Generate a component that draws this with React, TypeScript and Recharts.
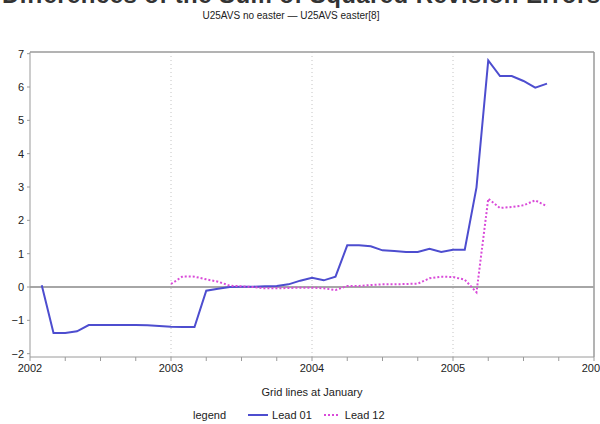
import { LineChart, Line, XAxis, YAxis, ReferenceLine } from "recharts";

// month offsets from January 2002 (1 = Feb 2002 ... 44 = Sep 2005)
const months = [
  1, 2, 3, 4, 5, 6, 7, 8, 9, 10, 11, 12, 13, 14, 15, 16, 17, 18, 19, 20, 21, 22,
  23, 24, 25, 26, 27, 28, 29, 30, 31, 32, 33, 34, 35, 36, 37, 38, 39, 40, 41, 42,
  43, 44,
];

const lead01 = [
  0.05, -1.38, -1.38, -1.33, -1.14, -1.14, -1.14, -1.14, -1.14, -1.15, -1.17,
  -1.19, -1.2, -1.2, -0.11, -0.05, 0.0, 0.01, 0.01, 0.02, 0.03, 0.08, 0.19, 0.28,
  0.2, 0.31, 1.25, 1.25, 1.22, 1.1, 1.08, 1.05, 1.05, 1.15, 1.05, 1.12, 1.12,
  2.99, 6.8, 6.33, 6.33, 6.18, 5.98, 6.1,
];

const lead12 = [
  null, null, null, null, null, null, null, null, null, null, null, 0.09, 0.32,
  0.31, 0.23, 0.16, 0.04, 0.02, 0.0, -0.04, -0.04, -0.03, -0.02, -0.02, -0.04,
  -0.09, 0.03, 0.03, 0.06, 0.08, 0.08, 0.09, 0.1, 0.26, 0.31, 0.3, 0.22, -0.16,
  2.65, 2.37, 2.4, 2.45, 2.6, 2.42,
];

const quarterTicks = [0, 3, 6, 9, 12, 15, 18, 21, 24, 27, 30, 33, 36, 39, 42, 45, 48];
const yearLabels: Record<number, string> = {
  0: "2002",
  12: "2003",
  24: "2004",
  36: "2005",
  48: "2006",
};
const januaryLines = [12, 24, 36];
const yTicks = [-2, -1, 0, 1, 2, 3, 4, 5, 6, 7];
const yDomain: [number, number] = [-2.1, 7.05];
const xDomain: [number, number] = [0, 48];

const BLUE = "#4d4dcf";
const PINK = "#d94bd9";
const AXIS = "#9a9a9a";

const data = months.map((m, i) => ({ m, lead01: lead01[i], lead12: lead12[i] }));

export default function App() {
  return (
    <div
      style={{
        position: "absolute",
        left: 0,
        top: 0,
        width: 600,
        height: 424,
        overflow: "hidden",
        background: "#fff",
        fontFamily: "'Liberation Sans', Arial, sans-serif",
        color: "#222",
      }}
    >
      <svg width={600} height={24} style={{ position: "absolute", left: 0, top: 0 }}>
        <text
          x={2}
          y={3}
          fontSize={24}
          fontWeight="bold"
          fill="#333"
          textLength={598}
          lengthAdjust="spacing"
        >
          Differences of the Sum of Squared Revision Errors
        </text>
        <text x={291} y={19} fontSize={10} textAnchor="middle" fill="#222">
          U25AVS no easter — U25AVS easter[8]
        </text>
      </svg>

      <div style={{ position: "absolute", left: 0, top: 0 }}>
        <LineChart
          width={600}
          height={424}
          data={data}
          margin={{ top: 52, right: 6, bottom: 0, left: 0 }}
        >
          <XAxis
            dataKey="m"
            type="number"
            domain={xDomain}
            ticks={quarterTicks}
            interval={0}
            allowDataOverflow
            tickFormatter={(v: number) => yearLabels[v] ?? ""}
            tickSize={4}
            tickMargin={3}
            stroke={AXIS}
            tick={{ fill: "#222", fontSize: 11 }}
            height={67}
            label={{
              value: "Grid lines at January",
              position: "insideTop",
              offset: 31,
              fill: "#222",
              fontSize: 11,
            }}
          />
          <YAxis
            type="number"
            domain={yDomain}
            ticks={yTicks}
            interval={0}
            allowDataOverflow
            width={30}
            tickSize={3}
            tickMargin={3}
            stroke={AXIS}
            tick={{ fill: "#222", fontSize: 11 }}
            tickFormatter={(v: number) => (v < 0 ? "\u2212" + Math.abs(v) : String(v))}
          />
          {januaryLines.map((x) => (
            <ReferenceLine key={x} x={x} stroke="#c4c4c4" strokeDasharray="1 3" />
          ))}
          <ReferenceLine y={yDomain[1]} stroke={AXIS} strokeWidth={1.5} />
          <ReferenceLine x={xDomain[1]} stroke={AXIS} strokeWidth={1.5} />
          <ReferenceLine y={0} stroke="#a6a6a6" strokeWidth={2} />
          <Line
            dataKey="lead01"
            stroke={BLUE}
            strokeWidth={2}
            dot={false}
            isAnimationActive={false}
          />
          <Line
            dataKey="lead12"
            stroke={PINK}
            strokeWidth={2}
            strokeDasharray="2 2"
            dot={false}
            isAnimationActive={false}
          />
        </LineChart>
      </div>

      <div
        style={{
          position: "absolute",
          top: 408,
          left: 193,
          fontSize: 11,
          lineHeight: "14px",
          display: "flex",
          alignItems: "center",
          whiteSpace: "nowrap",
        }}
      >
        <span style={{ marginRight: 22 }}>legend</span>
        <svg width={20} height={6} style={{ marginRight: 4 }}>
          <line x1={0} y1={3} x2={20} y2={3} stroke={BLUE} strokeWidth={2} />
        </svg>
        <span style={{ marginRight: 12 }}>Lead 01</span>
        <svg width={14} height={6} style={{ marginRight: 7 }}>
          <line x1={0} y1={3} x2={14} y2={3} stroke={PINK} strokeWidth={2} strokeDasharray="2 2" />
        </svg>
        <span>Lead 12</span>
      </div>
    </div>
  );
}
